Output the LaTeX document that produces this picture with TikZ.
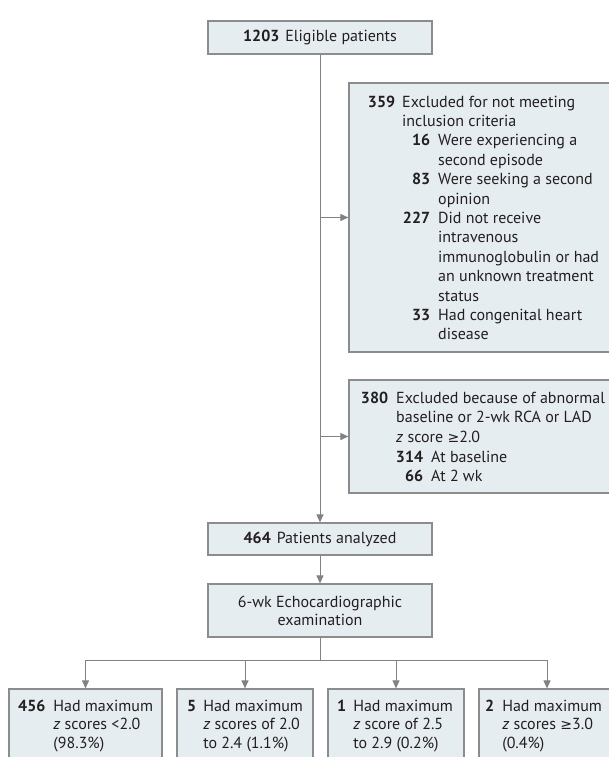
\documentclass[tikz,border=0pt]{standalone}
\usepackage{fontspec}
\setmainfont{PT Sans}
\newfontfamily\symfont{DejaVu Sans}[Scale=0.88]
\newcommand\myge{{\symfont ≥}}
\usetikzlibrary{arrows.meta}
\definecolor{boxfill}{HTML}{E6EDF1}
\definecolor{boxline}{HTML}{8A8C8E}
\definecolor{txt}{HTML}{231F20}
\definecolor{conncol}{HTML}{808285}
\newcommand\fsz{\fontsize{16}{19.4}\selectfont}
\newcommand\nA[2]{\makebox[#1][r]{\textbf{#2}}}
\begin{document}
\begin{tikzpicture}[x=1pt,y=-1pt,
  box/.style={draw=boxline, fill=boxfill, line width=1.2pt, inner sep=0pt},
  conn/.style={draw=conncol, line width=1pt},
  arr/.style={conn, -{Triangle[length=8pt,width=7pt]}},
  tx/.style={inner sep=0pt, anchor=base west, text=txt},
  every node/.style={text=txt, font=\fsz}]
\clip (0,0) rectangle (609,757);
\fill[white] (0,0) rectangle (609,757);
% main column boxes
\node[box, minimum width=224pt, minimum height=33pt] (elig) at (320,37.5) {\textbf{1203}\hspace{6pt}Eligible patients};
\node[box, minimum width=224pt, minimum height=32pt] (anal) at (320,539) {\textbf{464}\hspace{6pt}Patients analyzed};
\node[box, minimum width=224pt, minimum height=53pt, align=center, font=\fontsize{16}{18}\selectfont] (echo) at (320,610.5) {6-wk Echocardiographic\\examination};
% exclusion boxes
\node[box, minimum width=266pt, minimum height=269pt] (ex1) at (482,217.5) {};
\node[box, minimum width=266pt, minimum height=113pt] (ex2) at (482,436.5) {};
\node[tx] (ex1t) at (355,107) {\parbox[t]{250pt}{\fsz\raggedright
\nA{40pt}{359}\hspace{7pt}Excluded for not meeting\\
\hspace*{47pt}inclusion criteria\\
\hspace*{47pt}\nA{28pt}{16}\hspace{8pt}Were experiencing a\\
\hspace*{83pt}second episode\\
\hspace*{47pt}\nA{28pt}{83}\hspace{8pt}Were seeking a second\\
\hspace*{83pt}opinion\\
\hspace*{47pt}\nA{28pt}{227}\hspace{8pt}Did not receive\\
\hspace*{83pt}intravenous\\
\hspace*{83pt}immunoglobulin or had\\
\hspace*{83pt}an unknown treatment\\
\hspace*{83pt}status\\
\hspace*{47pt}\nA{28pt}{33}\hspace{8pt}Had congenital heart\\
\hspace*{83pt}disease}};
\node[tx] (ex2t) at (348,403) {\parbox[t]{260pt}{\fontsize{16}{19.7}\selectfont\raggedright
\nA{40pt}{380}\hspace{8pt}Excluded because of abnormal\\
\hspace*{48pt}baseline or 2-wk RCA or LAD\\
\hspace*{48pt}\textit{z} score \myge2.0\\
\hspace*{48pt}\nA{27pt}{314}\hspace{8pt}At baseline\\
\hspace*{48pt}\nA{27pt}{66}\hspace{8pt}At 2 wk}};
% result boxes
\node[box, minimum width=153pt, minimum height=76pt] (r1) at (85.5,727) {};
\node[box, minimum width=136pt, minimum height=76pt] (r2) at (245,727) {};
\node[box, minimum width=136pt, minimum height=76pt] (r3) at (396,727) {};
\node[box, minimum width=136pt, minimum height=76pt] (r4) at (547,727) {};
\node[tx] (r1t) at (18,711) {\textbf{456}\hspace{8pt}\parbox[t]{110pt}{\fontsize{16}{18.5}\selectfont Had maximum\\\textit{z} scores <2.0\\(98.3\%)}};
\node[tx] (r2t) at (187,711) {\textbf{5}\hspace{7pt}\parbox[t]{110pt}{\fontsize{16}{18.5}\selectfont Had maximum\\\textit{z} scores of 2.0\\to 2.4 (1.1\%)}};
\node[tx] (r3t) at (337,711) {\textbf{1}\hspace{7pt}\parbox[t]{110pt}{\fontsize{16}{18.5}\selectfont Had maximum\\\textit{z} score of 2.5\\to 2.9 (0.2\%)}};
\node[tx] (r4t) at (485,711) {\textbf{2}\hspace{8pt}\parbox[t]{110pt}{\fontsize{16}{18.5}\selectfont Had maximum\\\textit{z} scores \myge3.0\\(0.4\%)}};
% connectors
\draw[arr] (elig.south) -- (anal.north);
\draw[arr] (elig.south |- ex1.west) -- (ex1.west);
\draw[arr] (elig.south |- ex2.west) -- (ex2.west);
\draw[arr] (anal.south) -- (echo.north);
\coordinate (split) at (320,660);
\draw[conn] (echo.south) -- (split);
\draw[arr] (split) -| (r1.north);
\draw[arr] (split) -| (r2.north);
\draw[arr] (split) -| (r3.north);
\draw[arr] (split) -| (r4.north);
\end{tikzpicture}
\end{document}
